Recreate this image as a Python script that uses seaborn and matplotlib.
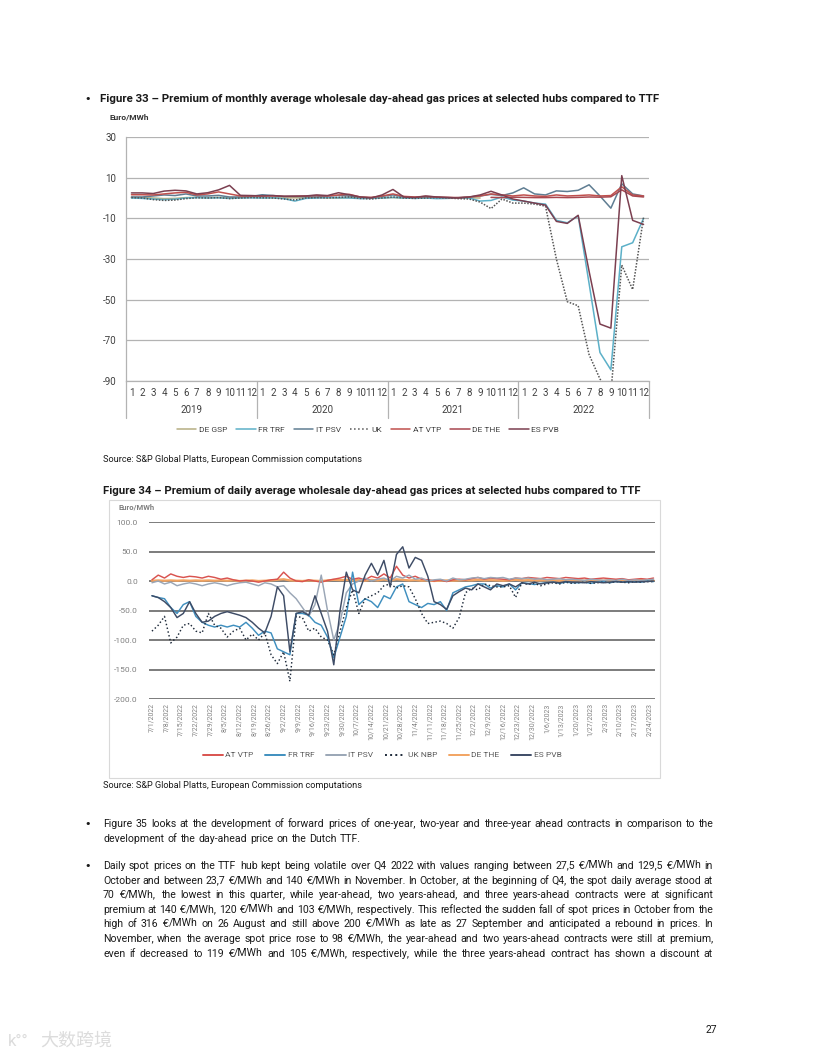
import math
import matplotlib
matplotlib.use("Agg")
import matplotlib.pyplot as plt
import matplotlib.patches as mpatches
from matplotlib.lines import Line2D
from matplotlib.font_manager import FontProperties
import numpy as np
import pandas as pd
import seaborn as sns

# Page size (px)
W, H = 816, 1056

# ---------------- Figure 33 data: monthly premium vs TTF (Euro/MWh), 2019-2022
years = ["2019", "2020", "2021", "2022"]
month_labels = [str(m) for m in range(1, 13)] * 4
hubs33 = ["DE GSP", "FR TRF", "IT PSV", "UK", "AT VTP", "DE THE", "ES PVB"]

nan = np.nan
de_gsp = [0.3, 0.2, 0.0, -0.3, -0.2, 0.2, 0.3, 0.2, 0.3, 0.1, 0.2, 0.3,
          0.2, 0.1, 0.0, 0.1, 0.0, 0.2, 0.1, 0.0, 0.2, 0.1, 0.0, 0.1,
          0.2, 0.0, -0.1, 0.0, 0.1, 0.0, 0.0, 0.1, 0.0, nan, nan, nan,
          nan, nan, nan, nan, nan, nan, nan, nan, nan, nan, nan, nan]
fr_trf = [0.0, -0.2, -0.5, -0.8, -0.6, 0.0, 0.2, 0.0, 0.1, -0.2, 0.0, 0.1,
          0.0, 0.1, -0.3, -1.5, -0.2, 0.0, 0.2, 0.1, 0.0, -0.3, -0.2, 0.0,
          0.3, 0.0, -0.2, 0.0, -0.3, -0.2, 0.0, 0.0, -1.5, -1.2, 0.5, -1.0,
          -1.5, -2.5, -3.0, -11.0, -12.2, -8.8, -42.0, -76.0, -84.5, -24.0, -22.0, -10.0]
it_psv = [0.5, 0.5, 1.0, 1.5, 1.2, 2.0, 1.0, 1.0, 1.3, 0.5, 0.5, 0.8,
          1.6, 1.2, 0.8, 0.8, 0.6, 0.5, 1.0, 1.2, 1.0, 0.4, 0.2, 0.8,
          1.5, 0.5, 0.3, 0.5, 0.3, 0.0, 0.2, 0.5, 1.0, 1.8, 1.2, 2.5,
          5.0, 2.0, 1.5, 3.5, 3.2, 3.8, 6.5, 1.0, -5.0, 7.0, 2.0, 1.0]
uk = [0.2, 0.0, -0.8, -1.2, -1.0, -0.3, 0.1, 0.0, 0.2, -0.3, 0.0, 0.2,
      0.1, 0.0, -0.5, -1.0, 0.0, 0.2, 0.0, 0.3, 0.5, -0.2, -0.5, 0.0,
      0.5, 0.0, -0.2, 0.0, 0.2, 0.0, -0.3, -0.5, -2.0, -5.2, -0.5, -2.5,
      -2.5, -3.0, -4.0, -30.0, -51.0, -53.0, -77.0, -89.0, -96.0, -33.0, -45.0, -9.5]
at_vtp = [1.6, 1.6, 1.5, 2.0, 2.5, 2.8, 1.5, 2.0, 3.0, 2.0, 1.0, 1.0,
          1.0, 1.0, 0.8, 0.8, 1.0, 1.2, 1.0, 1.5, 1.8, 0.5, 0.3, 1.0,
          2.0, 0.8, 0.5, 0.8, 0.5, 0.3, 0.2, 0.5, 1.0, 2.0, 1.5, 1.0,
          1.5, 1.0, 0.8, 1.5, 1.0, 1.2, 1.5, 1.0, 1.2, 5.5, 1.5, 1.0]
de_the = [nan] * 33 + [0.3, 0.2, 0.4,
          0.3, 0.2, 0.2, 0.3, 0.2, 0.3, 0.5, 0.4, 0.6, 4.0, 1.0, 0.5]
es_pvb = [2.5, 2.5, 2.2, 3.4, 3.8, 3.5, 2.0, 2.6, 4.0, 6.2, 1.3, 1.2,
          1.0, 1.2, 0.8, 0.9, 1.0, 1.5, 1.2, 2.6, 1.6, 0.5, 0.0, 1.5,
          4.2, 0.5, 0.2, 1.0, 0.5, 0.3, 0.0, 0.5, 1.5, 3.3, 1.5, -0.5,
          -1.5, -2.5, -3.5, -11.5, -12.5, -8.5, -36.0, -62.0, -64.0, 11.0, -11.0, -13.0]

pal33 = {"DE GSP": "#b5ae82", "FR TRF": "#5cb0c8", "IT PSV": "#5f7d92", "UK": "#555555",
         "AT VTP": "#c0504d", "DE THE": "#a8474f", "ES PVB": "#7b3f50"}
dash33 = {h: "" for h in hubs33}
dash33["UK"] = (1, 1)

# ---------------- Figure 34 data: daily premium vs TTF (Euro/MWh), sampled every 3 days from 1 Jul 2022
hubs34 = ["AT VTP", "FR TRF", "IT PSV", "UK NBP", "DE THE", "ES PVB"]
dates34 = pd.date_range("2022-07-01", periods=81, freq="3D")

d_uk_nbp = [-85, -75, -60, -105, -95, -75, -72, -85, -88, -55, -75,
            -80, -95, -85, -80, -100, -90, -100, -88, -125, -140,
            -120, -170, -60, -62, -85, -80, -95, -100, -125, -85,
            -45, -15, -55, -30, -25, -20, -8, -5, -12, -8,
            -10, -30, -55, -72, -70, -68, -72, -80, -62, -20,
            -12, -15, -5, -8, -10, -10, -8, -28, -3, -6, -4,
            -8, -5, -3, -5, -2, -4, -3, -2, -4, -3,
            -2, -3, -1, -2, -3, -1, -2, -1, -1]
d_fr_trf = [-25, -28, -30, -45, -55, -40, -35, -60, -70, -75, -78,
            -75, -78, -75, -78, -70, -80, -92, -85, -88, -115,
            -120, -125, -55, -55, -58, -70, -75, -95, -130, -95,
            -60, 15, -40, -30, -35, -45, -25, -30, -10, -5,
            -35, -40, -45, -38, -40, -35, -50, -20, -15, -10,
            -8, -5, -5, -12, -8, -10, -5, -15, -3, -4, -6,
            -4, -3, -2, -4, -2, -3, -3, -2, -4, -2,
            -1, -3, -1, -2, -2, -1, -2, 0, -1]
d_es_pvb = [-25, -28, -35, -45, -62, -55, -35, -55, -70, -68, -60,
            -55, -52, -55, -58, -62, -70, -80, -88, -60, -10,
            -25, -120, -55, -52, -58, -25, -55, -85, -142, -50,
            15, -15, -20, 10, 30, 10, 35, -10, 45, 58,
            22, 40, 35, 8, -35, -40, -48, -25, -18, -12,
            -15, -5, -10, -15, -5, -8, -5, -10, -3, -5, -2,
            -5, -3, -2, -3, -1, -2, -2, -3, -1, -2,
            -3, -2, -1, -2, -1, -2, -1, -1, 0]
d_it_psv = [-3, 0, -5, -2, -8, -5, -3, -5, -8, -5, -3,
            -5, -8, -5, -3, -2, -5, -8, -3, -5, -10,
            -8, -20, -30, -45, -60, -40, 10, -50, -100, -70,
            -20, -5, 0, 5, 0, 3, 5, 0, 8, 5,
            10, 3, 5, 0, 2, 3, 0, 5, 2, 3,
            5, 6, 4, 6, 5, 6, 3, 5, 4, 5, 3,
            4, 2, 3, 4, 2, 3, 2, 1, 3, 2,
            1, 2, 1, 3, 1, 2, 1, 2, 3]
d_at_vtp = [2, 10, 5, 12, 8, 6, 8, 7, 5, 8, 6,
            3, 5, 2, 0, 1, 0, -2, 0, 2, 3,
            15, 5, 0, -1, 2, 0, -2, 1, 3, 5,
            8, 3, 5, 2, 8, 5, 12, 5, 25, 10,
            5, 8, 3, 2, 0, 2, -1, 2, 3, 2,
            4, 6, 3, 5, 4, 3, 2, 5, 4, 6, 5,
            4, 6, 5, 4, 6, 5, 4, 5, 3, 4,
            5, 4, 3, 4, 2, 3, 4, 3, 5]
d_de_the = [0.5, 1, 0.5, 1, 0.5, 1, 0.5, 1, 0.5, 1, 0.5,
            1, 0.5, 1, 0, 0.5, 1, 0, 0.5, 1, 2,
            3, 1, 0.5, 0, 1, 0.5, 0, 1, 2, 1.5,
            2, 1, 1.5, 0.5, 2, 1, 2.5, 1, 3, 2,
            1, 1.5, 0.5, 1, 0, 0.5, 1, 0.5, 1, 1.5,
            1, 2, 1, 1.5, 1, 0.5, 1, 2, 1, 1.5, 1,
            1, 1.5, 1, 0.5, 1, 1.5, 1, 0.5, 1, 1,
            0.5, 1, 1.5, 1, 0.5, 1, 1.5, 1, 1]

pal34 = {"AT VTP": "#d9534f", "FR TRF": "#3f8fbf", "IT PSV": "#9aa6b6", "UK NBP": "#1e2a3a",
         "DE THE": "#f2a462", "ES PVB": "#3e4c66"}

# ---------------- page text
title33 = "Figure 33 \u2013 Premium of monthly average wholesale day-ahead gas prices at selected hubs compared to TTF"
title34 = "Figure 34 \u2013 Premium of daily average wholesale day-ahead gas prices at selected hubs compared to TTF"
source = "Source: S&P Global Platts, European Commission computations"
para1 = ["Figure 35 looks at the development of forward prices of one-year, two-year and three-year ahead contracts in comparison to the",
         "development of the day-ahead price on the Dutch TTF."]
para2 = ["Daily spot prices on the TTF hub kept being volatile over Q4 2022 with values ranging between 27,5 \u20ac/MWh and 129,5 \u20ac/MWh in",
         "October and between 23,7 \u20ac/MWh and 140 \u20ac/MWh in November. In October, at the beginning of Q4, the spot daily average stood at",
         "70 \u20ac/MWh, the lowest in this quarter, while year-ahead, two years-ahead, and three years-ahead contracts were at significant",
         "premium at 140 \u20ac/MWh, 120 \u20ac/MWh and 103 \u20ac/MWh, respectively. This reflected the sudden fall of spot prices in October from the",
         "high of 316 \u20ac/MWh on 26 August and still above 200 \u20ac/MWh as late as 27 September and anticipated a rebound in prices. In",
         "November, when the average spot price rose to 98 \u20ac/MWh, the year-ahead and two years-ahead contracts were still at premium,",
         "even if decreased to 119 \u20ac/MWh and 105 \u20ac/MWh, respectively, while the three years-ahead contract has shown a discount at"]

sns.set_theme(style="white")
plt.rcParams["font.family"] = ["Roboto", "DejaVu Sans"]
plt.rcParams["axes.unicode_minus"] = False

fig = plt.figure(figsize=(W / 100, H / 100), dpi=100)
fig.patch.set_facecolor("white")
renderer = fig.canvas.get_renderer()


def fx(px):
    return px / W


def fy(py):
    return 1 - py / H


def fit_text(x, y, s, width_px, size=8, **kw):
    # scale the font so the line spans the same width as on the page
    t = fig.text(fx(x), fy(y), s, fontsize=size, va="center", **kw)
    w = t.get_window_extent(renderer).width
    t.set_fontsize(size * width_px / w)
    return t


def bullet(y):
    fig.text(fx(84), fy(y), "\u2022", fontsize=8, va="center", color=TXT, family=["DejaVu Sans"])


TXT = "#1a1a1a"

# ================= Figure 33 =================
bullet(99)
fit_text(100, 99, title33, 558, fontweight="bold", color=TXT)
fig.text(fx(110), fy(117), "Euro/MWh", fontsize=6, fontweight="bold", va="center", color="#333333")

ax1 = fig.add_axes([fx(126), fy(381), (649 - 126) / W, (381 - 137) / H])
df33 = pd.DataFrame({"idx": range(48), "DE GSP": de_gsp, "FR TRF": fr_trf, "IT PSV": it_psv,
                     "UK": uk, "AT VTP": at_vtp, "DE THE": de_the, "ES PVB": es_pvb})
df33 = df33.melt(id_vars="idx", var_name="hub", value_name="premium").dropna()
sns.lineplot(data=df33, x="idx", y="premium", hue="hub", style="hub", hue_order=hubs33,
             style_order=hubs33, palette=pal33, dashes=dash33, estimator=None, sort=False,
             linewidth=1.1, legend=False, ax=ax1)
ax1.set_xlim(-0.5, 47.5)
ax1.set_ylim(-90, 30)
ax1.set_yticks(range(-90, 31, 20))
ax1.yaxis.grid(True, color="#b3b3b3", linewidth=0.9)
ax1.set_axisbelow(True)
for s in ["top", "right"]:
    ax1.spines[s].set_visible(False)
for s in ["left", "bottom"]:
    ax1.spines[s].set_color("#b3b3b3")
    ax1.spines[s].set_linewidth(0.9)
ax1.set_xticks(range(48))
ax1.set_xticklabels(month_labels)
ax1.tick_params(axis="x", length=0, pad=5, labelsize=7, labelcolor="#404040")
ax1.tick_params(axis="y", length=0, pad=7, labelsize=7, labelcolor="#404040")
ax1.set_xlabel("")
ax1.set_ylabel("")
trans = ax1.get_xaxis_transform()
for k in range(5):
    ax1.plot([k * 12 - 0.5, k * 12 - 0.5], [0, -0.152], transform=trans, color="#b3b3b3",
             linewidth=0.9, clip_on=False)
for k, yr in enumerate(years):
    ax1.text(k * 12 + 5.5, -0.118, yr, transform=trans, ha="center", va="center",
             fontsize=7, color="#404040")

handles33 = [Line2D([], [], color=pal33[h], lw=1.1, linestyle=":" if h == "UK" else "-") for h in hubs33]
fig.legend(handles33, hubs33, loc="center", bbox_to_anchor=(fx(368), fy(430)), ncol=7,
           frameon=False, fontsize=6, handlelength=2.3, columnspacing=1.1, handletextpad=0.3,
           labelcolor="#404040")

fit_text(103, 460, source, 259, color=TXT)

# ================= Figure 34 =================
fit_text(103, 491, title34, 538, fontweight="bold", color=TXT)
fig.add_artist(mpatches.Rectangle((fx(109), fy(778)), (660 - 109) / W, (778 - 500) / H,
                                  transform=fig.transFigure, fill=False, edgecolor="#d9d9d9", lw=0.8))
fig.text(fx(118), fy(507), "Euro/MWh", fontsize=5.5, fontweight="bold", va="center", color="#7f7f7f")

ax2 = fig.add_axes([fx(149), fy(699), (655 - 149) / W, (699 - 522) / H])
df34 = pd.DataFrame({"date": dates34, "AT VTP": d_at_vtp, "FR TRF": d_fr_trf, "IT PSV": d_it_psv,
                     "UK NBP": d_uk_nbp, "DE THE": d_de_the, "ES PVB": d_es_pvb})
df34 = df34.melt(id_vars="date", var_name="hub", value_name="premium")
order34 = ["DE THE", "AT VTP", "IT PSV", "FR TRF", "UK NBP", "ES PVB"]
for h in order34:
    sub = df34[df34["hub"] == h]
    sns.lineplot(data=sub, x="date", y="premium", color=pal34[h],
                 linestyle=":" if h == "UK NBP" else "-",
                 linewidth=1.6 if h == "DE THE" else 1.05, estimator=None, sort=False,
                 legend=False, ax=ax2)
ax2.set_xlim(pd.Timestamp("2022-06-29 14:00"), pd.Timestamp("2023-02-26 17:00"))
ax2.set_ylim(-200, 100)
ax2.set_yticks(range(-200, 101, 50))
ax2.set_yticklabels([f"{v:.1f}" for v in range(-200, 101, 50)])
ax2.yaxis.grid(True, color="#666666", linewidth=1.2)
ax2.set_axisbelow(True)
for s in ["top", "right", "left", "bottom"]:
    ax2.spines[s].set_visible(False)
tick_dates = pd.date_range("2022-07-01", "2023-02-24", freq="7D")
ax2.set_xticks(tick_dates)
ax2.set_xticklabels([f"{d.month}/{d.day}/{d.year}" for d in tick_dates], rotation=90)
ax2.tick_params(axis="x", length=0, pad=3, labelsize=5, labelcolor="#808080")
ax2.tick_params(axis="y", length=0, pad=8, labelsize=6, labelcolor="#808080")
ax2.set_xlabel("")
ax2.set_ylabel("")

handles34 = [Line2D([], [], color=pal34[h], lw=1.4, linestyle=":" if h == "UK NBP" else "-") for h in hubs34]
fig.legend(handles34, hubs34, loc="center", bbox_to_anchor=(fx(382), fy(755)), ncol=6,
           frameon=False, fontsize=6, handlelength=2.4, columnspacing=1.4, handletextpad=0.3,
           labelcolor="#595959")

fit_text(103, 786, source, 259, color=TXT)

# ================= body text: one text per word, justified to the column
BODY = 7.6
FP_MAIN = FontProperties(family=["Roboto"], size=BODY)
FP_EURO = FontProperties(family=["DejaVu Sans"], size=BODY * 0.92)


def word_runs(word):
    runs, cur = [], ""
    for ch in word:
        if ch == "\u20ac":
            if cur:
                runs.append((cur, FP_MAIN))
                cur = ""
            runs.append((ch, FP_EURO))
        else:
            cur += ch
    if cur:
        runs.append((cur, FP_MAIN))
    return runs


def metrics(s, fp):
    return renderer.get_text_width_height_descent(s, fp, ismath=False)


def pixel_shift(s, fp, ytop):
    # Agg rounds each text bitmap to whole pixels using its own descent;
    # compute that offset so all words share the same baseline row
    _, h, d = metrics(s, fp)
    return round(ytop + d) - ytop - math.floor(h) + math.floor(h - d)


def justified(y, line, last=False, x0=103, x1=713):
    ytop = int(round(y + 3))  # baseline row counted from the top of the page
    words = [word_runs(w) for w in line.split()]
    widths = [sum(metrics(s, fp)[0] for s, fp in runs) for runs in words]
    gap = metrics("a", FP_MAIN)[0] * 0.55 if last else (x1 - x0 - sum(widths)) / (len(words) - 1)
    x = x0
    for runs, wid in zip(words, widths):
        xx = x
        for s, fp in runs:
            yrow = ytop - pixel_shift(s, fp, ytop)
            fig.text(fx(xx), fy(yrow), s, fontproperties=fp, va="baseline", color=TXT)
            xx += metrics(s, fp)[0]
        x += wid + gap


bullet(824)
for i, ln in enumerate(para1):
    justified(824 + i * 14.6, ln, last=(i == len(para1) - 1))
bullet(866)
for i, ln in enumerate(para2):
    justified(866 + i * 14.6, ln)

fig.text(fx(706), fy(1030), "27", fontsize=7.5, va="center", color=TXT)
fig.text(fx(40), fy(1041), "大数跨境", family=["Noto Sans CJK SC", "DejaVu Sans"], fontsize=13,
         color="#dcdcdc", va="center")
fig.text(fx(8), fy(1041), "k\u00b0\u00b0", fontsize=12, color="#dcdcdc", va="center")

fig.savefig("out.png", dpi=100)
